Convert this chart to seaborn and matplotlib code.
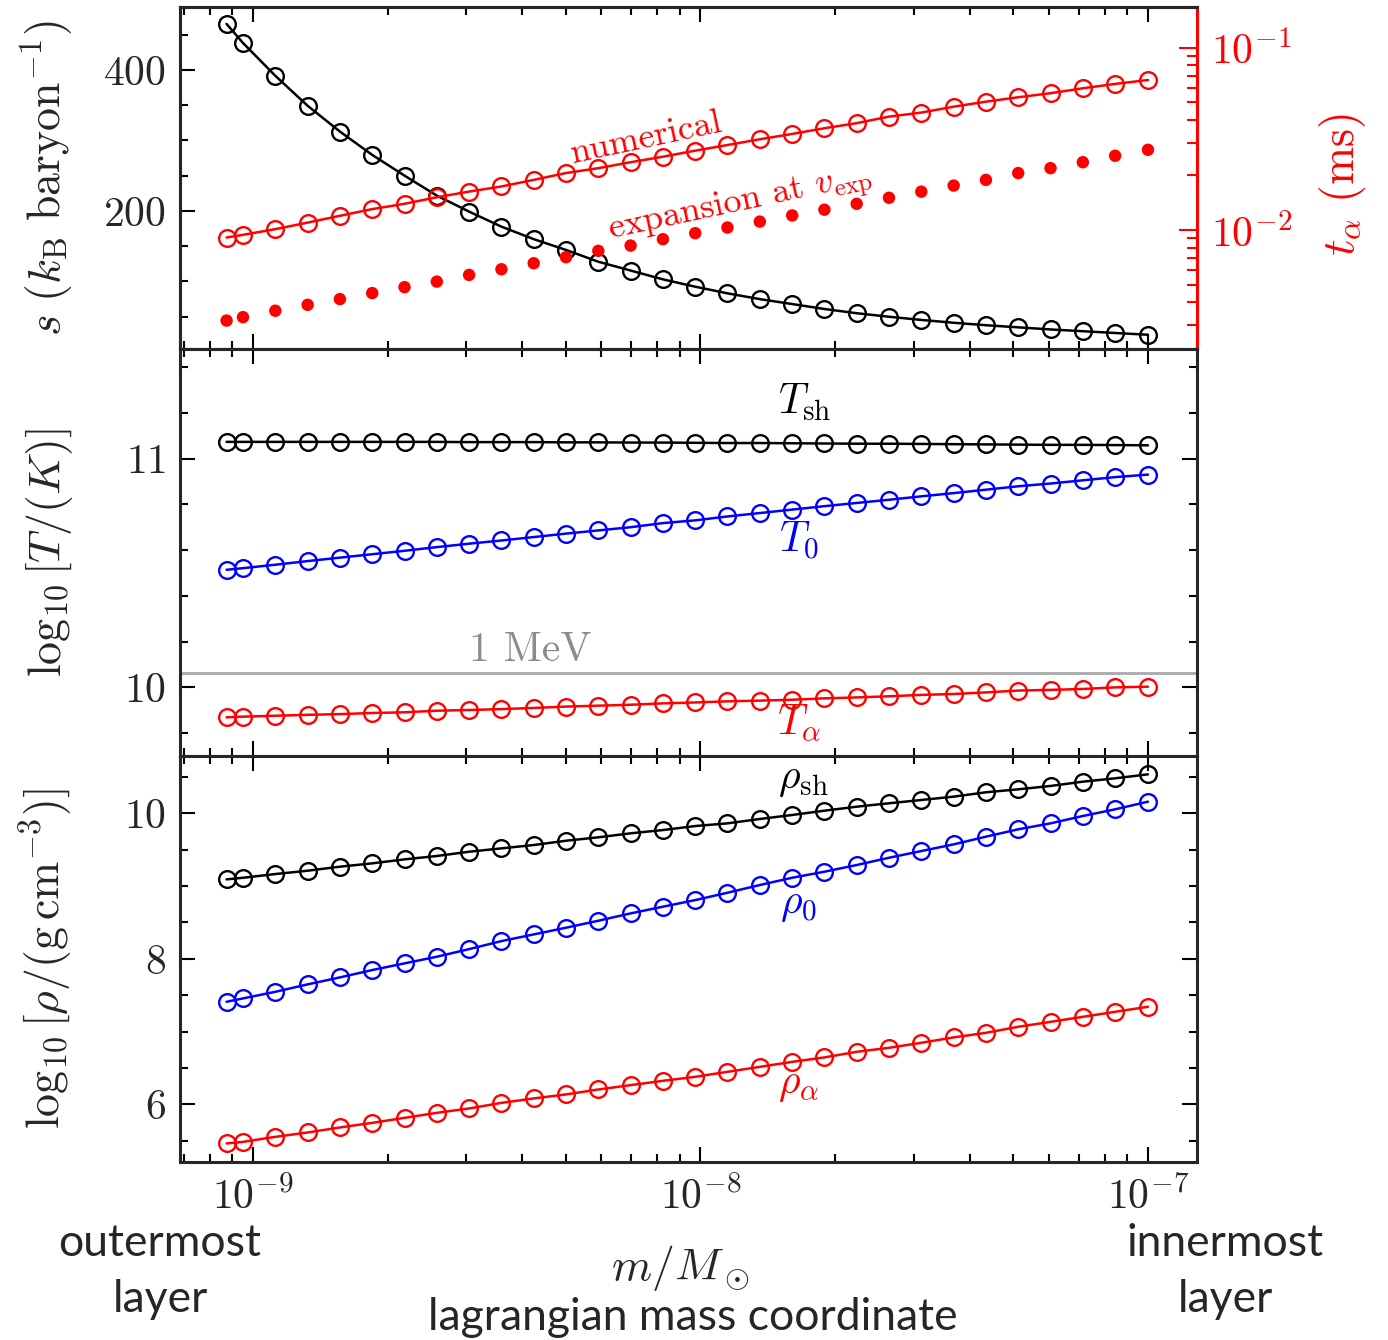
import numpy as np
import pandas as pd
import matplotlib
matplotlib.use("Agg")
import matplotlib.pyplot as plt
import seaborn as sns
from matplotlib.ticker import MultipleLocator, LogLocator, NullFormatter

# ---------------- data ----------------
m = [8.73e-10, 9.50e-10, 1.122e-9, 1.325e-9, 1.564e-9, 1.847e-9, 2.181e-9, 2.575e-9,
     3.041e-9, 3.591e-9, 4.240e-9, 5.006e-9, 5.912e-9, 6.981e-9, 8.243e-9, 9.733e-9,
     1.149e-8, 1.357e-8, 1.603e-8, 1.892e-8, 2.234e-8, 2.638e-8, 3.115e-8, 3.679e-8,
     4.344e-8, 5.129e-8, 6.057e-8, 7.152e-8, 8.445e-8, 1.0e-7]

s_entropy = [465, 438, 391.5, 349, 312.5, 279.4, 250, 221.7, 199, 177.7, 160, 144.7,
             128, 115.5, 103, 92.6, 83.2, 75, 68, 61, 55, 50, 45.5, 41.5, 38, 35,
             32, 29.5, 27, 24.5]

t_numerical = [9.08e-3, 9.39e-3, 1.009e-2, 1.096e-2, 1.194e-2, 1.30e-2, 1.39e-2, 1.51e-2,
               1.622e-2, 1.73e-2, 1.88e-2, 2.05e-2, 2.18e-2, 2.35e-2, 2.52e-2, 2.72e-2,
               2.92e-2, 3.14e-2, 3.36e-2, 3.61e-2, 3.85e-2, 4.18e-2, 4.40e-2, 4.74e-2,
               5.05e-2, 5.34e-2, 5.62e-2, 5.98e-2, 6.32e-2, 6.64e-2]

t_expansion = [3.18e-3, 3.32e-3, 3.60e-3, 3.88e-3, 4.17e-3, 4.50e-3, 4.85e-3, 5.20e-3,
               5.66e-3, 6.08e-3, 6.56e-3, 7.08e-3, 7.67e-3, 8.20e-3, 8.89e-3, 9.59e-3,
               1.03e-2, 1.11e-2, 1.20e-2, 1.29e-2, 1.39e-2, 1.50e-2, 1.62e-2, 1.75e-2,
               1.88e-2, 2.05e-2, 2.18e-2, 2.35e-2, 2.55e-2, 2.75e-2]

logT_sh = [11.073, 11.073, 11.073, 11.073, 11.073, 11.073, 11.073, 11.073, 11.072, 11.072,
           11.072, 11.071, 11.071, 11.070, 11.070, 11.069, 11.068, 11.068, 11.067, 11.066,
           11.065, 11.065, 11.064, 11.063, 11.062, 11.061, 11.060, 11.060, 11.059, 11.058]

logT_0 = [10.514, 10.521, 10.536, 10.552, 10.567, 10.582, 10.597, 10.613, 10.628, 10.642,
          10.657, 10.672, 10.686, 10.700, 10.718, 10.730, 10.747, 10.762, 10.777, 10.792,
          10.806, 10.820, 10.835, 10.849, 10.864, 10.879, 10.891, 10.905, 10.919, 10.930]

logT_alpha = [9.869, 9.872, 9.876, 9.880, 9.883, 9.888, 9.891, 9.898, 9.901, 9.905,
              9.910, 9.916, 9.920, 9.924, 9.930, 9.934, 9.939, 9.942, 9.946, 9.952,
              9.956, 9.961, 9.967, 9.971, 9.978, 9.986, 9.989, 9.993, 10.000, 10.003]

logT_1MeV = 10.0646

logrho_sh = [9.092, 9.114, 9.165, 9.211, 9.266, 9.312, 9.367, 9.413, 9.472, 9.518,
             9.564, 9.623, 9.670, 9.725, 9.770, 9.825, 9.862, 9.922, 9.977, 10.036,
             10.091, 10.138, 10.183, 10.229, 10.289, 10.330, 10.376, 10.435, 10.481, 10.536]

logrho_0 = [7.409, 7.455, 7.546, 7.648, 7.744, 7.845, 7.937, 8.028, 8.133, 8.243,
            8.335, 8.427, 8.523, 8.624, 8.716, 8.807, 8.908, 9.014, 9.114, 9.197,
            9.289, 9.389, 9.481, 9.573, 9.679, 9.780, 9.862, 9.963, 10.055, 10.160]

logrho_alpha = [5.461, 5.483, 5.552, 5.612, 5.681, 5.744, 5.813, 5.882, 5.942, 6.019,
                6.080, 6.135, 6.203, 6.263, 6.322, 6.377, 6.446, 6.514, 6.583, 6.644,
                6.721, 6.776, 6.845, 6.919, 6.982, 7.065, 7.133, 7.202, 7.271, 7.340]

# ---------------- style ----------------
sns.set_style("ticks")
plt.rcParams["font.family"] = ["cmr10", "DejaVu Serif"]
plt.rcParams["mathtext.fontset"] = "cm"
plt.rcParams["axes.formatter.use_mathtext"] = True
plt.rcParams["axes.unicode_minus"] = False

RED = "#ff0000"
BLUE = "#0000ff"
BLACK = "#000000"
FS_TICK = 30
FS_LAB = 33
FS_ANN = 30

fig = plt.figure(figsize=(13.88, 13.40), dpi=100)
L, W = 180 / 1388, 1017 / 1388
ax1 = fig.add_axes([L, 1 - 349 / 1340, W, 342 / 1340])
ax2 = fig.add_axes([L, 1 - 756 / 1340, W, 407 / 1340], sharex=ax1)
ax3 = fig.add_axes([L, 1 - 1162 / 1340, W, 406 / 1340], sharex=ax1)
for ax in (ax1, ax2, ax3):
    ax.set_xscale("log")


def curve(ax, y, color):
    sns.lineplot(x=m, y=y, ax=ax, color=color, lw=1.8, marker="o", ms=12,
                 markerfacecolor="none", mec=color, mew=1.7, errorbar=None,
                 sort=False, legend=False)


# ---- top panel ----
curve(ax1, s_entropy, BLACK)
axt = ax1.twinx()
axt.set_yscale("log")
curve(axt, t_numerical, RED)
sns.scatterplot(x=m, y=t_expansion, ax=axt, color=RED, s=80, edgecolor="none",
                legend=False, zorder=3)
ax1.set_ylim(4.3, 489)
axt.set_ylim(2.22e-3, 0.167)
ax1.yaxis.set_major_locator(MultipleLocator(200))
ax1.yaxis.set_minor_locator(MultipleLocator(50))
ax1.set_ylabel(r"$s\ (k_{\rm B}\ \mathrm{baryon}^{-1})$", fontsize=FS_LAB)
axt.set_ylabel(r"$t_\alpha\ (\mathrm{ms})$", fontsize=FS_LAB, color=RED)
axt.yaxis.set_label_coords(1.118, 0.48)
axt.yaxis.set_minor_formatter(NullFormatter())
axt.text(7.59e-9, 0.0318, "numerical", color=RED, fontsize=26, rotation=12,
         ha="center", va="center")
axt.text(1.225e-8, 0.01371, r"expansion at $v_{\rm exp}$", color=RED, fontsize=26,
         rotation=12, ha="center", va="center")

# ---- middle panel ----
ax2.axhline(logT_1MeV, color="#a8a8a8", lw=2.0, zorder=1)
curve(ax2, logT_sh, BLACK)
curve(ax2, logT_0, BLUE)
curve(ax2, logT_alpha, RED)
ax2.set_ylim(9.70, 11.479)
ax2.yaxis.set_major_locator(MultipleLocator(1))
ax2.yaxis.set_minor_locator(MultipleLocator(0.2))
ax2.set_ylabel(r"$\log_{10}[T/(K)]$", fontsize=FS_LAB)
ax2.text(4.16e-9, 10.161, "1 MeV", color="#8c8c8c", fontsize=FS_ANN, ha="center", va="center")
ax2.text(1.714e-8, 11.246, r"$T_{\rm sh}$", color=BLACK, fontsize=FS_ANN, ha="center", va="center")
ax2.text(1.66e-8, 10.64, r"$T_0$", color=BLUE, fontsize=FS_ANN, ha="center", va="center")
ax2.text(1.66e-8, 9.845, r"$T_\alpha$", color=RED, fontsize=FS_ANN, ha="center", va="center")

# ---- bottom panel ----
curve(ax3, logrho_sh, BLACK)
curve(ax3, logrho_0, BLUE)
curve(ax3, logrho_alpha, RED)
ax3.set_ylim(5.206, 10.788)
ax3.yaxis.set_major_locator(MultipleLocator(2))
ax3.yaxis.set_minor_locator(MultipleLocator(0.5))
ax3.set_ylabel(r"$\log_{10}[\rho/(\mathrm{g\,cm}^{-3})]$", fontsize=FS_LAB)
ax3.text(1.70e-8, 10.458, r"$\rho_{\rm sh}$", color=BLACK, fontsize=FS_ANN, ha="center", va="center")
ax3.text(1.66e-8, 8.739, r"$\rho_0$", color=BLUE, fontsize=FS_ANN, ha="center", va="center")
ax3.text(1.66e-8, 6.263, r"$\rho_\alpha$", color=RED, fontsize=FS_ANN, ha="center", va="center")

ax3.set_xlim(6.87e-10, 1.287e-7)
ax3.xaxis.set_major_locator(LogLocator(base=10))
ax3.xaxis.set_minor_locator(LogLocator(base=10, subs=np.arange(2, 10)))
ax3.xaxis.set_minor_formatter(NullFormatter())

# ---- ticks & spines ----
for ax in (ax1, ax2, ax3):
    ax.tick_params(which="both", direction="in", top=True, right=True,
                   labelsize=FS_TICK, width=1.5, color="k", pad=10)
    ax.tick_params(which="major", length=11)
    ax.tick_params(which="minor", length=6)
    for sp in ax.spines.values():
        sp.set_linewidth(2.2)
    ax.yaxis.set_label_coords(-0.103, 0.5)
    ax.set_xlabel("")
ax1.tick_params(axis="y", which="both", right=False)
ax1.tick_params(axis="x", labelbottom=False)
ax2.tick_params(axis="x", labelbottom=False)
axt.tick_params(axis="y", which="both", direction="in", colors=RED, labelcolor=RED,
                labelsize=FS_TICK, width=1.5, pad=10, left=False, right=True)
axt.tick_params(axis="y", which="major", length=13)
axt.tick_params(axis="y", which="minor", length=7)
for sp in axt.spines.values():
    sp.set_linewidth(2.2)
axt.spines["right"].set_color(RED)

# ---- x label and annotations ----
fig.text(680 / 1388, 1 - 1268 / 1340, r"$m/M_\odot$", fontsize=FS_LAB, ha="center", va="center")
SANS = ["Lato", "DejaVu Sans"]
FS_SANS = 32
fig.text(693 / 1388, 1 - 1318 / 1340, "lagrangian mass coordinate", fontsize=FS_SANS,
         family=SANS, ha="center", va="center")
fig.text(160 / 1388, 1 - 1243 / 1340, "outermost", fontsize=FS_SANS, family=SANS,
         ha="center", va="center")
fig.text(160 / 1388, 1 - 1300 / 1340, "layer", fontsize=FS_SANS, family=SANS,
         ha="center", va="center")
fig.text(1225 / 1388, 1 - 1243 / 1340, "innermost", fontsize=FS_SANS, family=SANS,
         ha="center", va="center")
fig.text(1225 / 1388, 1 - 1300 / 1340, "layer", fontsize=FS_SANS, family=SANS,
         ha="center", va="center")

fig.savefig("out.png", dpi=100)
